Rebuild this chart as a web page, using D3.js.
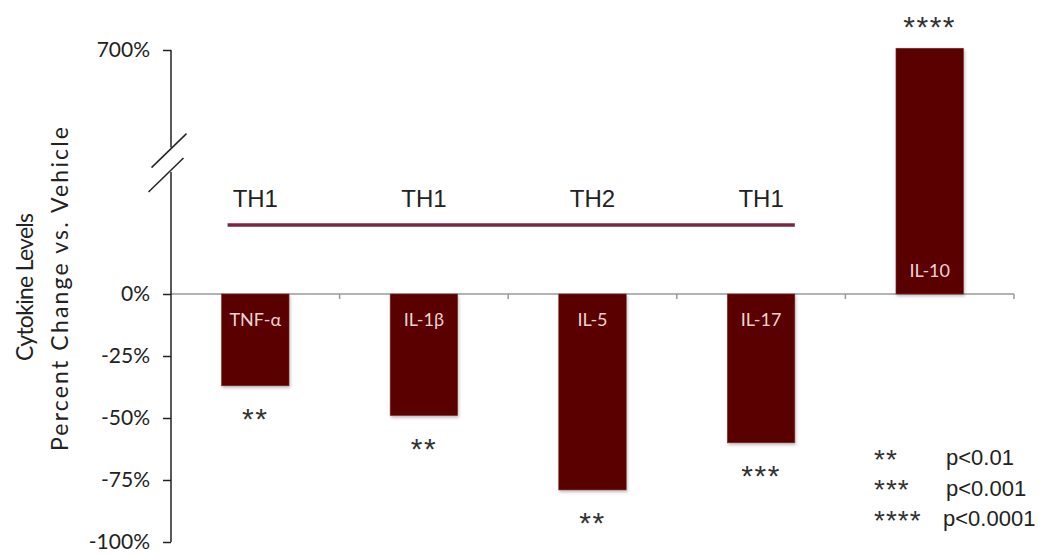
<!DOCTYPE html>
<html>
<head>
<meta charset="utf-8">
<script src="https://cdn.jsdelivr.net/npm/d3@7"></script>
<style>
  body { margin: 0; background: #fff; }
  svg { display: block; }
</style>
</head>
<body>
<svg id="chart" width="1055" height="554"></svg>
<script>
// Cytokine response data
const cytokines     = ["TNF-α", "IL-1β", "IL-5", "IL-17", "IL-10"];
const percentChange = [-37, -49, -79, -60, 705];
const significance  = ["**", "**", "**", "***", "****"];
const helperClass   = ["TH1", "TH1", "TH2", "TH1"];      // labels over the first four cytokines
const yTicks        = [-100, -75, -50, -25, 0, 700];
const legendStars   = ["**", "***", "****"];
const legendText    = ["p<0.01", "p<0.001", "p<0.0001"];
const yTitle        = ["Cytokine Levels", "Percent Change vs. Vehicle"];
const axisBreak     = [350, 420];   // gap in the value axis
const classLevel    = 198;          // value at which the TH bracket line sits

const svg = d3.select("#chart");
const sansCal = "Lato, 'Open Sans', sans-serif";
const sansAr  = "'Liberation Sans', Arial, sans-serif";

const x = d3.scaleBand()
  .domain(cytokines)
  .range([171, 1014])
  .paddingInner(0.6)
  .paddingOuter(0.3);

// piecewise scale: the negative part and the broken positive part
const y = d3.scaleLinear()
  .domain([-100, 0, 700])
  .range([542, 294, 50]);

// soft shadow under bars
const defs = svg.append("defs");
const f = defs.append("filter").attr("id", "shadow")
  .attr("x", "-20%").attr("y", "-20%").attr("width", "140%").attr("height", "140%");
f.append("feDropShadow").attr("dx", 1).attr("dy", 2).attr("stdDeviation", 1.5)
  .attr("flood-color", "#000").attr("flood-opacity", 0.25);

// x axis (baseline at 0%)
const xg = svg.append("g").attr("class", "x-axis");
xg.append("line")
  .attr("x1", x.range()[0]).attr("x2", x.range()[1])
  .attr("y1", y(0)).attr("y2", y(0))
  .attr("stroke", "#9a9a9a").attr("stroke-width", 1.5);
xg.selectAll("line.tick")
  .data(d3.range(1, cytokines.length + 1))
  .join("line").attr("class", "tick")
  .attr("x1", i => x.range()[0] + i * x.step())
  .attr("x2", i => x.range()[0] + i * x.step())
  .attr("y1", y(0)).attr("y2", y(0) + 5)
  .attr("stroke", "#9a9a9a").attr("stroke-width", 1.5);

// bars
svg.append("g").selectAll("rect")
  .data(cytokines)
  .join("rect")
  .attr("x", d => x(d))
  .attr("width", x.bandwidth())
  .attr("y", (d, i) => Math.min(y(percentChange[i]), y(0)))
  .attr("height", (d, i) => Math.abs(y(percentChange[i]) - y(0)))
  .attr("fill", "#5a0000")
  .attr("stroke", "#7a2a2a").attr("stroke-width", 0.6)
  .attr("filter", "url(#shadow)");

// cytokine names inside the bars
svg.append("g").selectAll("text")
  .data(cytokines)
  .join("text")
  .attr("x", d => x(d) + x.bandwidth() / 2)
  .attr("y", (d, i) => percentChange[i] < 0 ? y(0) + 32 : y(0) - 17)
  .attr("text-anchor", "middle")
  .attr("font-family", sansCal)
  .attr("font-size", 18)
  .attr("fill", "#efd3d3")
  .text(d => d);

// significance stars
svg.append("g").selectAll("text")
  .data(cytokines)
  .join("text")
  .attr("x", d => x(d) + x.bandwidth() / 2)
  .attr("y", (d, i) => percentChange[i] < 0
      ? y(percentChange[i]) + 26 + 17
      : y(percentChange[i]) - 28 + 17)
  .attr("text-anchor", "middle")
  .attr("font-family", sansAr)
  .attr("font-size", 30)
  .attr("letter-spacing", 1.5)
  .attr("fill", "#333")
  .text((d, i) => significance[i]);

// y axis with break
const yg = svg.append("g").attr("transform", "translate(171,0)");
yg.call(d3.axisLeft(y).tickValues(yTicks).tickSize(8).tickPadding(13)
  .tickFormat(d => d + "%"));
yg.select(".domain").remove();
yg.selectAll(".tick line").attr("stroke", "#222").attr("stroke-width", 1.5);
yg.selectAll(".tick text")
  .attr("font-family", sansCal).attr("font-size", 21).attr("fill", "#222");
yg.append("line").attr("x1", 0).attr("x2", 0)
  .attr("y1", y(-100)).attr("y2", y(axisBreak[0]))
  .attr("stroke", "#222").attr("stroke-width", 1.5);
yg.append("line").attr("x1", 0).attr("x2", 0)
  .attr("y1", y(axisBreak[1])).attr("y2", y(700))
  .attr("stroke", "#222").attr("stroke-width", 1.5);
// break slashes
yg.selectAll("line.brk")
  .data(axisBreak)
  .join("line").attr("class", "brk")
  .attr("x1", (d, i) => (i === 0 ? -5 : -2) - 17.5)
  .attr("x2", (d, i) => (i === 0 ? -5 : -2) + 17.5)
  .attr("y1", d => y(d) + 3 + 17)
  .attr("y2", d => y(d) + 3 - 17)
  .attr("stroke", "#222").attr("stroke-width", 1.5);

// y title, two lines
const titleLen = [148, 324];
svg.append("g").selectAll("text")
  .data(yTitle)
  .join("text")
  .attr("transform", (d, i) => `translate(${i === 0 ? 33 : 68},${i === 0 ? 287 : 289}) rotate(-90)`)
  .attr("text-anchor", "middle")
  .attr("font-family", sansCal)
  .attr("font-size", 23)
  .attr("textLength", (d, i) => titleLen[i])
  .attr("lengthAdjust", "spacing")
  .attr("fill", "#222")
  .text(d => d);

// TH class bracket
const thG = svg.append("g");
thG.append("line")
  .attr("x1", x(cytokines[0]) + 6)
  .attr("x2", x(cytokines[helperClass.length - 1]) + x.bandwidth())
  .attr("y1", y(classLevel)).attr("y2", y(classLevel))
  .attr("stroke", "#7a2640").attr("stroke-width", 3.5);
thG.selectAll("text")
  .data(helperClass)
  .join("text")
  .attr("x", (d, i) => x(cytokines[i]) + x.bandwidth() / 2)
  .attr("y", y(classLevel) - 18)
  .attr("text-anchor", "middle")
  .attr("font-family", sansAr)
  .attr("font-size", 24)
  .attr("fill", "#222")
  .text(d => d);

// significance key
const lg = svg.append("g");
lg.selectAll("text.st")
  .data(legendStars)
  .join("text").attr("class", "st")
  .attr("x", 874)
  .attr("y", (d, i) => [453, 483, 514][i] + 16)
  .attr("font-family", sansAr)
  .attr("font-size", 28)
  .attr("letter-spacing", 1)
  .attr("fill", "#333")
  .text(d => d);
lg.selectAll("text.pv")
  .data(legendText)
  .join("text").attr("class", "pv")
  .attr("x", (d, i) => i === 2 ? 943 : 946)
  .attr("y", (d, i) => [465, 496, 526][i])
  .attr("font-family", sansAr)
  .attr("font-size", 22)
  .attr("fill", "#222")
  .text(d => d);
</script>
</body>
</html>
